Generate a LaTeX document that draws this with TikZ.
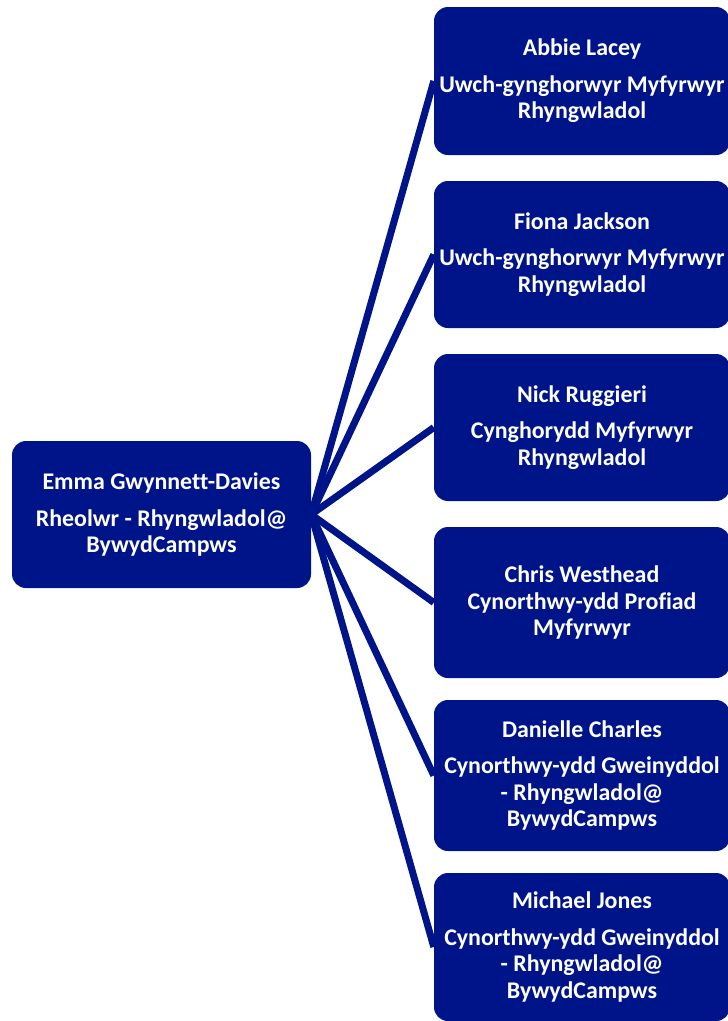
\documentclass[tikz,border=0pt]{standalone}
\usepackage{fontspec}
\setmainfont{Carlito}[Ligatures=NoCommon]
\definecolor{navy}{RGB}{0,20,137}
\tikzset{
  box/.style={fill=navy, rounded corners=14pt, text=white, font=\bfseries\fontsize{23.9}{26.5}\selectfont,
    align=center, inner sep=0pt},
  link/.style={draw=navy, line width=7pt},
}
\begin{document}
\begin{tikzpicture}[x=1pt,y=-1pt]
\useasboundingbox (0,0) rectangle (728,1021);
% left box
\node[box, minimum width=299pt, minimum height=147pt] (root) at (161.5,514.5)
  {Emma Gwynnett-Davies\\[10pt]Rheolwr - Rhyngwladol@\\BywydCampws};
% right boxes
\node[box, minimum width=296pt, minimum height=148pt] (a) at (582,81)
  {Abbie Lacey\\[10pt]Uwch-gynghorwyr Myfyrwyr\\Rhyngwladol};
\node[box, minimum width=296pt, minimum height=147pt] (b) at (582,254.5)
  {Fiona Jackson\\[10pt]Uwch-gynghorwyr Myfyrwyr\\Rhyngwladol};
\node[box, minimum width=296pt, minimum height=147pt] (c) at (582,427.5)
  {Nick Ruggieri\\[10pt]Cynghorydd Myfyrwyr\\Rhyngwladol};
\node[box, minimum width=296pt, minimum height=151pt] (d) at (582,602.5)
  {Chris Westhead\\Cynorthwy-ydd Profiad\\Myfyrwyr};
\node[box, minimum width=296pt, minimum height=151pt] (e) at (582,775.5)
  {Danielle Charles\\[10pt]Cynorthwy-ydd Gweinyddol\\- Rhyngwladol@\\BywydCampws};
\node[box, minimum width=296pt, minimum height=148pt] (f) at (582,947)
  {Michael Jones\\[10pt]Cynorthwy-ydd Gweinyddol\\- Rhyngwladol@\\BywydCampws};
% connectors
\foreach \t in {a,b,c,d,e,f}
  \draw[link] (root.east) -- (\t.west);
\end{tikzpicture}
\end{document}
